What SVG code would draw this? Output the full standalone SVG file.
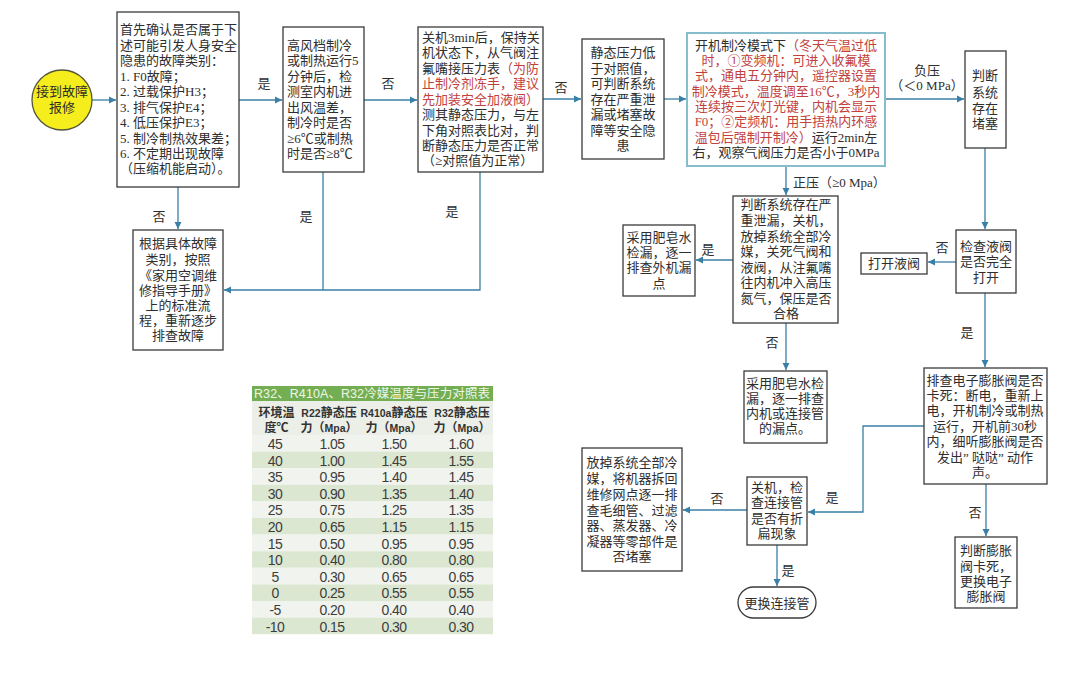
<svg xmlns="http://www.w3.org/2000/svg" width="1080" height="684" viewBox="0 0 1080 684">
<defs>
<style>
.bx{fill:#fff;stroke:#3a3a3a;stroke-width:1.3}
.bx5{fill:#fff;stroke:#86bccb;stroke-width:2}
.t{font-family:"Liberation Serif","Noto Sans CJK SC",serif;font-size:13px;fill:#2e2e2e}
.c{text-anchor:middle}
.r{fill:#c2413c}
.cn{fill:none;stroke:#3a7fa5;stroke-width:1.3}
.lb{font-family:"Liberation Serif","Noto Sans CJK SC",serif;font-size:13px;fill:#2e2e2e}
.tb{font-family:"Liberation Sans","Noto Sans CJK SC",sans-serif;font-size:14px;letter-spacing:-0.6px;fill:#3d3d3d;text-anchor:middle}
.th{font-family:"Liberation Sans","Noto Sans CJK SC",sans-serif;font-size:12px;font-weight:bold;fill:#333;text-anchor:middle}
.sm{font-size:10.5px}
.ra{fill:#f1f4ee}
.rb{fill:#dce7d2}
</style>
<marker id="ah" markerWidth="8" markerHeight="8" refX="7" refY="4" orient="auto" markerUnits="userSpaceOnUse">
<path d="M0,0.5 L7,4 L0,7.5 Z" fill="#3a7fa5"/>
</marker>
</defs>
<rect width="1080" height="684" fill="#fff"/>

<g id="connectors">
<path class="cn" d="M92,100 H116" marker-end="url(#ah)"/>
<path class="cn" d="M239,100 H282" marker-end="url(#ah)"/>
<path class="cn" d="M364,100 H417" marker-end="url(#ah)"/>
<path class="cn" d="M543,99 H581" marker-end="url(#ah)"/>
<path class="cn" d="M664,99 H686" marker-end="url(#ah)"/>
<path class="cn" d="M885,99 H964" marker-end="url(#ah)"/>
<path class="cn" d="M178,187 V229" marker-end="url(#ah)"/>
<path class="cn" d="M323,172 V290"/>
<path class="cn" d="M480,172 V290 H224" marker-end="url(#ah)"/>
<path class="cn" d="M786,166 V195" marker-end="url(#ah)"/>
<path class="cn" d="M733,260 H696" marker-end="url(#ah)"/>
<path class="cn" d="M786,323 V370" marker-end="url(#ah)"/>
<path class="cn" d="M985,148 V229" marker-end="url(#ah)"/>
<path class="cn" d="M956,262 H928" marker-end="url(#ah)"/>
<path class="cn" d="M985,293 V367" marker-end="url(#ah)"/>
<path class="cn" d="M924,426 H863 V512 H808" marker-end="url(#ah)"/>
<path class="cn" d="M747,510 H683" marker-end="url(#ah)"/>
<path class="cn" d="M777,545 V586" marker-end="url(#ah)"/>
<path class="cn" d="M986,484 V536" marker-end="url(#ah)"/>
<text class="lb c" x="264" y="88">是</text>
<text class="lb c" x="388" y="88">否</text>
<text class="lb c" x="561" y="92">否</text>
<text class="lb c" x="927" y="75">负压</text>
<text class="lb c" x="927" y="90">（＜0 MPa）</text>
<text class="lb c" x="159" y="221">否</text>
<text class="lb c" x="306" y="221">是</text>
<text class="lb c" x="452" y="216">是</text>
<text class="lb" x="793" y="187">正压（≥0 Mpa）</text>
<text class="lb c" x="708" y="254">是</text>
<text class="lb c" x="772" y="347">否</text>
<text class="lb c" x="942" y="252">否</text>
<text class="lb c" x="967" y="337">是</text>
<text class="lb c" x="832" y="502">是</text>
<text class="lb c" x="717" y="503">否</text>
<text class="lb c" x="788" y="575">是</text>
<text class="lb c" x="975" y="517">否</text>
</g>

<g id="start">
<circle cx="62" cy="100" r="30" fill="#f6ee1c" stroke="#55553a" stroke-width="1.3"/>
<text class="t c" x="62" y="96">接到故障</text>
<text class="t c" x="62" y="112">报修</text>
</g>

<g id="box1">
<rect class="bx" x="117" y="12" width="122" height="175"/>
<text class="t"><tspan x="120" y="34">首先确认是否属于下</tspan><tspan x="120" y="50">述可能引发人身安全</tspan><tspan x="120" y="65">隐患的故障类别：</tspan><tspan x="120" y="81">1. F0故障；</tspan><tspan x="120" y="96">2. 过载保护H3；</tspan><tspan x="120" y="112">3. 排气保护E4；</tspan><tspan x="120" y="127">4. 低压保护E3；</tspan><tspan x="120" y="143">5. 制冷制热效果差；</tspan><tspan x="120" y="158">6. 不定期出现故障</tspan><tspan x="120" y="173">（压缩机能启动）。</tspan></text>
</g>

<g id="box2">
<rect class="bx" x="283" y="27" width="81" height="145"/>
<text class="t"><tspan x="287" y="50">高风档制冷</tspan><tspan x="287" y="65">或制热运行5</tspan><tspan x="287" y="81">分钟后，检</tspan><tspan x="287" y="96">测室内机进</tspan><tspan x="287" y="112">出风温差，</tspan><tspan x="287" y="127">制冷时是否</tspan><tspan x="287" y="143">≥6℃或制热</tspan><tspan x="287" y="158">时是否≥8℃</tspan></text>
</g>

<g id="box3">
<rect class="bx" x="418" y="27" width="125" height="145"/>
<text class="t"><tspan x="422" y="42">关机3min后，保持关</tspan><tspan x="422" y="57">机状态下，从气阀注</tspan><tspan x="422" y="73">氟嘴接压力表<tspan class="r">（为防</tspan></tspan><tspan x="422" y="88" class="r">止制冷剂冻手，建议</tspan><tspan x="422" y="104" class="r">先加装安全加液阀）</tspan><tspan x="422" y="119">测其静态压力，与左</tspan><tspan x="422" y="135">下角对照表比对，判</tspan><tspan x="422" y="150">断静态压力是否正常</tspan><tspan x="422" y="165">（≥对照值为正常）</tspan></text>
</g>

<g id="box4">
<rect class="bx" x="582" y="39" width="82" height="120"/>
<text class="t c"><tspan x="623" y="57">静态压力低</tspan><tspan x="623" y="73">于对照值，</tspan><tspan x="623" y="88">可判断系统</tspan><tspan x="623" y="104">存在严重泄</tspan><tspan x="623" y="119">漏或堵塞故</tspan><tspan x="623" y="135">障等安全隐</tspan><tspan x="623" y="150">患</tspan></text>
</g>

<g id="box5">
<rect class="bx5" x="687" y="33" width="198" height="133"/>
<text class="t c"><tspan x="786" y="50">开机制冷模式下<tspan class="r">（冬天气温过低</tspan></tspan><tspan x="786" y="65" class="r">时，①变频机：可进入收氟模</tspan><tspan x="786" y="80" class="r">式，通电五分钟内，遥控器设置</tspan><tspan x="786" y="96" class="r">制冷模式，温度调至16℃，3秒内</tspan><tspan x="786" y="111" class="r">连续按三次灯光键，内机会显示</tspan><tspan x="786" y="126" class="r">F0；②定频机：用手捂热内环感</tspan><tspan x="786" y="142"><tspan class="r">温包后强制开制冷）</tspan>运行2min左</tspan><tspan x="786" y="157">右，观察气阀压力是否小于0MPa</tspan></text>
</g>

<g id="box6">
<rect class="bx" x="965" y="51" width="41" height="97"/>
<text class="t c"><tspan x="985" y="80">判断</tspan><tspan x="985" y="97">系统</tspan><tspan x="985" y="113">存在</tspan><tspan x="985" y="128">堵塞</tspan></text>
</g>

<g id="box7">
<rect class="bx" x="733" y="196" width="105" height="127"/>
<text class="t c"><tspan x="786" y="209">判断系统存在严</tspan><tspan x="786" y="225">重泄漏，关机，</tspan><tspan x="786" y="241">放掉系统全部冷</tspan><tspan x="786" y="256">媒，关死气阀和</tspan><tspan x="786" y="272">液阀，从注氟嘴</tspan><tspan x="786" y="287">往内机冲入高压</tspan><tspan x="786" y="303">氮气，保压是否</tspan><tspan x="786" y="318">合格</tspan></text>
</g>

<g id="box8">
<rect class="bx" x="133" y="230" width="90" height="120"/>
<text class="t c"><tspan x="178" y="248">根据具体故障</tspan><tspan x="178" y="264">类别，按照</tspan><tspan x="178" y="280">《家用空调维</tspan><tspan x="178" y="295">修指导手册》</tspan><tspan x="178" y="310">上的标准流</tspan><tspan x="178" y="325">程，重新逐步</tspan><tspan x="178" y="340">排查故障</tspan></text>
</g>

<g id="box9">
<rect class="bx" x="623" y="225" width="72" height="71"/>
<text class="t c"><tspan x="659" y="242">采用肥皂水</tspan><tspan x="659" y="257">检漏，逐一</tspan><tspan x="659" y="272">排查外机漏</tspan><tspan x="659" y="288">点</tspan></text>
</g>

<g id="box10">
<rect class="bx" x="744" y="371" width="83" height="72"/>
<text class="t c"><tspan x="785" y="388">采用肥皂水检</tspan><tspan x="785" y="403">漏，逐一排查</tspan><tspan x="785" y="418">内机或连接管</tspan><tspan x="785" y="433">的漏点。</tspan></text>
</g>

<g id="box11">
<rect class="bx" x="956" y="230" width="60" height="63"/>
<text class="t c"><tspan x="986" y="251">检查液阀</tspan><tspan x="986" y="266">是否完全</tspan><tspan x="986" y="282">打开</tspan></text>
</g>

<g id="box12">
<rect class="bx" x="861" y="253" width="66" height="21"/>
<text class="t c" x="894" y="268">打开液阀</text>
</g>

<g id="box13">
<rect class="bx" x="924" y="368" width="123" height="116"/>
<text class="t c"><tspan x="985" y="385">排查电子膨胀阀是否</tspan><tspan x="985" y="400">卡死：断电，重新上</tspan><tspan x="985" y="415">电，开机制冷或制热</tspan><tspan x="985" y="431">运行，开机前30秒</tspan><tspan x="985" y="446">内，细听膨胀阀是否</tspan><tspan x="985" y="462">发出” 哒哒” 动作</tspan><tspan x="985" y="477">声。</tspan></text>
</g>

<g id="box14">
<rect class="bx" x="747" y="477" width="60" height="68"/>
<text class="t c"><tspan x="777" y="492">关机，检</tspan><tspan x="777" y="507">查连接管</tspan><tspan x="777" y="523">是否有折</tspan><tspan x="777" y="538">扁现象</tspan></text>
</g>

<g id="box15">
<rect class="bx" x="582" y="448" width="100" height="123"/>
<text class="t c"><tspan x="632" y="467">放掉系统全部冷</tspan><tspan x="632" y="483">媒，将机器拆回</tspan><tspan x="632" y="499">维修网点逐一排</tspan><tspan x="632" y="515">查毛细管、过滤</tspan><tspan x="632" y="530">器、蒸发器、冷</tspan><tspan x="632" y="546">凝器等零部件是</tspan><tspan x="632" y="561">否堵塞</tspan></text>
</g>

<g id="box16">
<rect class="bx" x="955" y="537" width="62" height="71"/>
<text class="t c"><tspan x="986" y="555">判断膨胀</tspan><tspan x="986" y="571">阀卡死，</tspan><tspan x="986" y="586">更换电子</tspan><tspan x="986" y="601">膨胀阀</tspan></text>
</g>

<g id="end">
<rect class="bx" x="738" y="587" width="78" height="31" rx="15.5"/>
<text class="t c" x="777" y="608">更换连接管</text>
</g>

<g id="table">
<rect x="252" y="386" width="241" height="15" fill="#74ae52"/>
<text x="254" y="398" font-family="'Liberation Sans','Noto Sans CJK SC',sans-serif" font-size="12.5" fill="#eef7e6" textLength="236" lengthAdjust="spacing">R32、R410A、R32冷媒温度与压力对照表</text>
<rect x="252" y="401" width="241" height="34" fill="#ebefe7"/>
<rect class="ra" x="252" y="435" width="241" height="16.6"/>
<rect class="rb" x="252" y="451.6" width="241" height="16.6"/>
<rect class="ra" x="252" y="468.2" width="241" height="16.6"/>
<rect class="rb" x="252" y="484.8" width="241" height="16.6"/>
<rect class="ra" x="252" y="501.4" width="241" height="16.6"/>
<rect class="rb" x="252" y="518" width="241" height="16.6"/>
<rect class="ra" x="252" y="534.6" width="241" height="16.6"/>
<rect class="rb" x="252" y="551.2" width="241" height="16.6"/>
<rect class="ra" x="252" y="567.8" width="241" height="16.6"/>
<rect class="rb" x="252" y="584.4" width="241" height="16.6"/>
<rect class="ra" x="252" y="601" width="241" height="16.6"/>
<rect class="rb" x="252" y="617.6" width="241" height="16.6"/>
<text class="th" x="276.5" y="417">环境温</text>
<text class="th" x="276.5" y="432">度℃</text>
<text class="th" x="329" y="417"><tspan class="sm">R22</tspan>静态压</text>
<text class="th" x="329" y="432">力（<tspan class="sm">Mpa</tspan>）</text>
<text class="th" x="394" y="417"><tspan class="sm">R410a</tspan>静态压</text>
<text class="th" x="394" y="432">力（<tspan class="sm">Mpa</tspan>）</text>
<text class="th" x="462" y="417"><tspan class="sm">R32</tspan>静态压</text>
<text class="th" x="462" y="432">力（<tspan class="sm">Mpa</tspan>）</text>
<text class="tb"><tspan x="275" y="449">45</tspan><tspan x="275" y="465.6">40</tspan><tspan x="275" y="482.2">35</tspan><tspan x="275" y="498.8">30</tspan><tspan x="275" y="515.4">25</tspan><tspan x="275" y="532">20</tspan><tspan x="275" y="548.6">15</tspan><tspan x="275" y="565.2">10</tspan><tspan x="275" y="581.8">5</tspan><tspan x="275" y="598.4">0</tspan><tspan x="275" y="615">-5</tspan><tspan x="275" y="631.6">-10</tspan></text>
<text class="tb"><tspan x="332" y="449">1.05</tspan><tspan x="332" y="465.6">1.00</tspan><tspan x="332" y="482.2">0.95</tspan><tspan x="332" y="498.8">0.90</tspan><tspan x="332" y="515.4">0.75</tspan><tspan x="332" y="532">0.65</tspan><tspan x="332" y="548.6">0.50</tspan><tspan x="332" y="565.2">0.40</tspan><tspan x="332" y="581.8">0.30</tspan><tspan x="332" y="598.4">0.25</tspan><tspan x="332" y="615">0.20</tspan><tspan x="332" y="631.6">0.15</tspan></text>
<text class="tb"><tspan x="394" y="449">1.50</tspan><tspan x="394" y="465.6">1.45</tspan><tspan x="394" y="482.2">1.40</tspan><tspan x="394" y="498.8">1.35</tspan><tspan x="394" y="515.4">1.25</tspan><tspan x="394" y="532">1.15</tspan><tspan x="394" y="548.6">0.95</tspan><tspan x="394" y="565.2">0.80</tspan><tspan x="394" y="581.8">0.65</tspan><tspan x="394" y="598.4">0.55</tspan><tspan x="394" y="615">0.40</tspan><tspan x="394" y="631.6">0.30</tspan></text>
<text class="tb"><tspan x="461" y="449">1.60</tspan><tspan x="461" y="465.6">1.55</tspan><tspan x="461" y="482.2">1.45</tspan><tspan x="461" y="498.8">1.40</tspan><tspan x="461" y="515.4">1.35</tspan><tspan x="461" y="532">1.15</tspan><tspan x="461" y="548.6">0.95</tspan><tspan x="461" y="565.2">0.80</tspan><tspan x="461" y="581.8">0.65</tspan><tspan x="461" y="598.4">0.55</tspan><tspan x="461" y="615">0.40</tspan><tspan x="461" y="631.6">0.30</tspan></text>
</g>
</svg>
